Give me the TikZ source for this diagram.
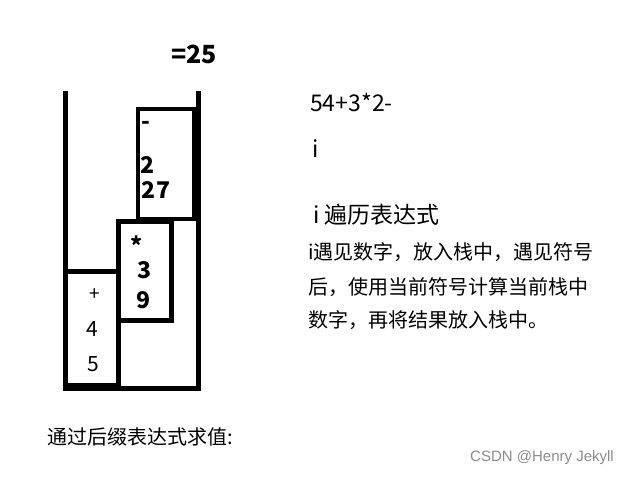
\documentclass[tikz,border=0pt]{standalone}
\usepackage{fontspec}
\setmainfont{Noto Sans CJK SC}
\newfontfamily\wmfont{Liberation Sans}
\usetikzlibrary{positioning}

\begin{document}
\begin{tikzpicture}[x=1pt,y=-1pt,
 stk/.style={line width=5pt},
 box/.style={draw,line width=4.6pt,inner sep=0pt},
 bnum/.style={font=\fontsize{23}{26}\selectfont\bfseries,inner sep=0pt},
 num/.style={font=\fontsize{21}{24}\selectfont,inner sep=0pt},
 txt/.style={anchor=west,inner sep=0pt,font=\fontsize{20}{24}\selectfont},
 big/.style={txt,font=\fontsize{23}{26}\selectfont}]
\useasboundingbox (0,0) rectangle (629,477);
% stack container
\draw[stk] (65,91) -- (65,388) -- (198.5,388) -- (198.5,91);
% stack frames
\node[box,minimum width=56pt,minimum height=110pt] (minus) at (166,164) {};
\node[box,minimum width=53pt,minimum height=99pt] (times) at (145,271) {};
\node[box,minimum width=53.5pt,minimum height=114pt] (plus) at (91.75,328.5) {};
\node[bnum] (minus-op) at (146,125) {-};
\node[bnum] (minus-a) at (148,165) {2};
\node[bnum] (minus-b) at (156,190) {27};
\node[bnum] (times-op) at (136.5,245) {*};
\node[bnum] (times-a) at (145,270) {3};
\node[bnum] (times-b) at (144,300) {9};
\node[num,font=\fontsize{19}{22}\selectfont] (plus-op) at (94.5,295) {+};
\node[num] (plus-a) at (92.5,329) {4};
\node[num] (plus-b) at (93,364) {5};
\node[bnum,anchor=west,font=\fontsize{25}{28}\selectfont\bfseries] (result) at (171,54) {=25};
% notes
\node[big] (expr) at (310,102) {54+3*2-};
\node[big] (ptr) at (312,149) {i};
\node[big] (walk) at (313,215) {i 遍历表达式};
\node[txt] (rule1) at (308,252) {i遇见数字，放入栈中，遇见符号};
\node[txt] (rule2) at (308,287) {后，使用当前符号计算当前栈中};
\node[txt] (rule3) at (308,320) {数字，再将结果放入栈中。};
\node[txt,font=\fontsize{20}{24}\selectfont] (title) at (47,437) {通过后缀表达式求值:};
\node[anchor=east,inner sep=0pt,text=black!45,font=\wmfont\fontsize{15}{18}\selectfont] (mark) at (614,458) {CSDN @Henry Jekyll};
\end{tikzpicture}
\end{document}
